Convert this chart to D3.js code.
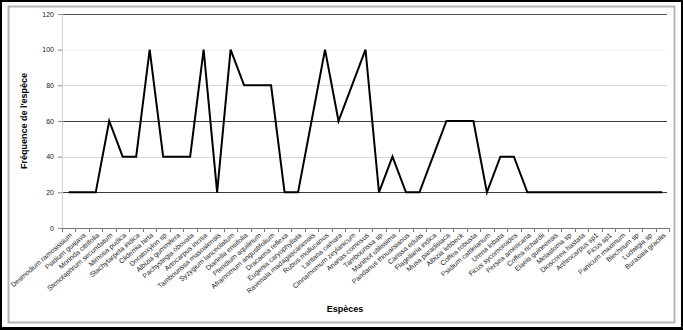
<!DOCTYPE html>
<html>
<head>
<meta charset="utf-8">
<script src="https://cdn.jsdelivr.net/npm/d3@7"></script>
<style>
  html, body { margin: 0; padding: 0; background: #fff; }
  svg { display: block; }
</style>
</head>
<body>
<svg id="chart" width="683" height="330"></svg>
<script>
// Species surveyed and their occurrence frequency (%)
const species = [
  "Desmodium ramosissium", "Psidium guajava", "Morinda citrifolia", "Stenotaphrum secundatum",
  "Mimosa pudica", "Stachytarpeta indica", "Clidemia hirta", "Doratoxylon sp",
  "Albizia gummifera", "Pachystegia obovata", "Artocarpus incisa", "Tambourissa masoalensis",
  "Syzygium lanceolatum", "Dianella ensifolia", "Pteridium aquilinum", "Aframomum angustifolium",
  "Dracaena reflexa", "Eugenia caryophyllata", "Ravenala madagascariensis", "Rubus mollucanus",
  "Lantana camara", "Cinnamomum zeylanicum", "Ananas comosus", "Tambourissa sp",
  "Manihot utilissima", "Pandanus thouarsianus", "Carissa edulis", "Flagellaria indica",
  "Musa paradisiaca", "Albizia lebbeck", "Coffea robusta", "Psidium cattleianum",
  "Urena lobata", "Ficus sycomoroides", "Persea americana", "Coffea richardii",
  "Elaeis guineensis", "Melastoma sp", "Dioscorea hastata", "Arthrocarpus sp1",
  "Ficus sp1", "Panicum maximum", "Blechnum sp", "Ludwigia sp", "Burasaia gracilis"
];
const frequency = [
  20, 20, 20, 60, 40, 40, 100, 40, 40, 40,
  100, 20, 100, 80, 80, 80, 20, 20, 60, 100,
  60, 80, 100, 20, 40, 20, 20, 40, 60, 60,
  60, 20, 40, 40, 20, 20, 20, 20, 20, 20,
  20, 20, 20, 20, 20
];
const yTicks = [0, 20, 40, 60, 80, 100, 120];
// gridline tone per tick value
const gridTone = { 20: "#3a3a3a", 40: "#d9d9d9", 60: "#3a3a3a", 80: "#d9d9d9", 100: "#efefef", 120: "#555" };

const svg = d3.select("#chart");
const W = 683, H = 330;

// outer frame
svg.append("rect").attr("x", 0).attr("y", 0).attr("width", W).attr("height", H).attr("fill", "#000");
svg.append("rect").attr("x", 2).attr("y", 2).attr("width", W - 4).attr("height", H - 5).attr("fill", "#fff");
svg.append("rect").attr("x", 8.5).attr("y", 6.5).attr("width", 666).attr("height", 316)
  .attr("fill", "#fff").attr("stroke", "#b5b5b5").attr("stroke-width", 2);

const m = { left: 62, right: 669, top: 14, bottom: 228 };

const x = d3.scaleBand().domain(species).range([m.left, m.right]).padding(0);
const y = d3.scaleLinear().domain([0, 120]).range([m.bottom, m.top]);

// horizontal gridlines
svg.append("g").selectAll("line").data(yTicks.filter(d => d > 0)).join("line")
  .attr("x1", m.left).attr("x2", m.right - 2)
  .attr("y1", d => Math.round(y(d)) + 0.5).attr("y2", d => Math.round(y(d)) + 0.5)
  .attr("stroke", d => gridTone[d]).attr("stroke-width", 1);

// y axis
const yAxis = svg.append("g").attr("transform", `translate(${m.left},0)`)
  .call(d3.axisLeft(y).tickValues(yTicks).tickSize(4).tickPadding(4));
yAxis.select(".domain").attr("stroke", "#d0d0d0");
yAxis.selectAll(".tick line").attr("stroke", "#888");
yAxis.selectAll("text").attr("font-family", "Liberation Sans, Arial, sans-serif")
  .attr("font-size", 7).attr("fill", "#222");

// x axis: ticks on category boundaries
const bounds = species.map(s => x(s)).concat([m.right]);
svg.append("line").attr("x1", m.left).attr("x2", m.right)
  .attr("y1", m.bottom + 0.5).attr("y2", m.bottom + 0.5).attr("stroke", "#777");
svg.append("g").selectAll("line").data(bounds).join("line")
  .attr("x1", d => Math.round(d) + 0.5).attr("x2", d => Math.round(d) + 0.5)
  .attr("y1", m.bottom).attr("y2", m.bottom + 4).attr("stroke", "#777");

// category labels, rotated
svg.append("g").selectAll("text").data(species).join("text")
  .attr("transform", d => `translate(${x(d) + x.bandwidth() / 2 + 4},${m.bottom + 8}) rotate(-41)`)
  .attr("text-anchor", "end")
  .attr("font-family", "Liberation Sans, Arial, sans-serif")
  .attr("font-size", 7).attr("fill", "#222")
  .text(d => d);

// frequency line
const line = d3.line()
  .x((d, i) => x(species[i]) + x.bandwidth() / 2)
  .y(d => y(d));
svg.append("path").datum(frequency).attr("d", line)
  .attr("fill", "none").attr("stroke", "#000").attr("stroke-width", 2)
  .attr("stroke-linejoin", "miter");

// axis titles
svg.append("text").attr("x", 345).attr("y", 312).attr("text-anchor", "middle")
  .attr("font-family", "Liberation Sans, Arial, sans-serif").attr("font-weight", "bold")
  .attr("font-size", 9).text("Espèces");
svg.append("text").attr("transform", "translate(27,121) rotate(-90)").attr("text-anchor", "middle")
  .attr("font-family", "Liberation Sans, Arial, sans-serif").attr("font-weight", "bold")
  .attr("font-size", 9).text("Fréquence de l'espèce");
</script>
</body>
</html>
